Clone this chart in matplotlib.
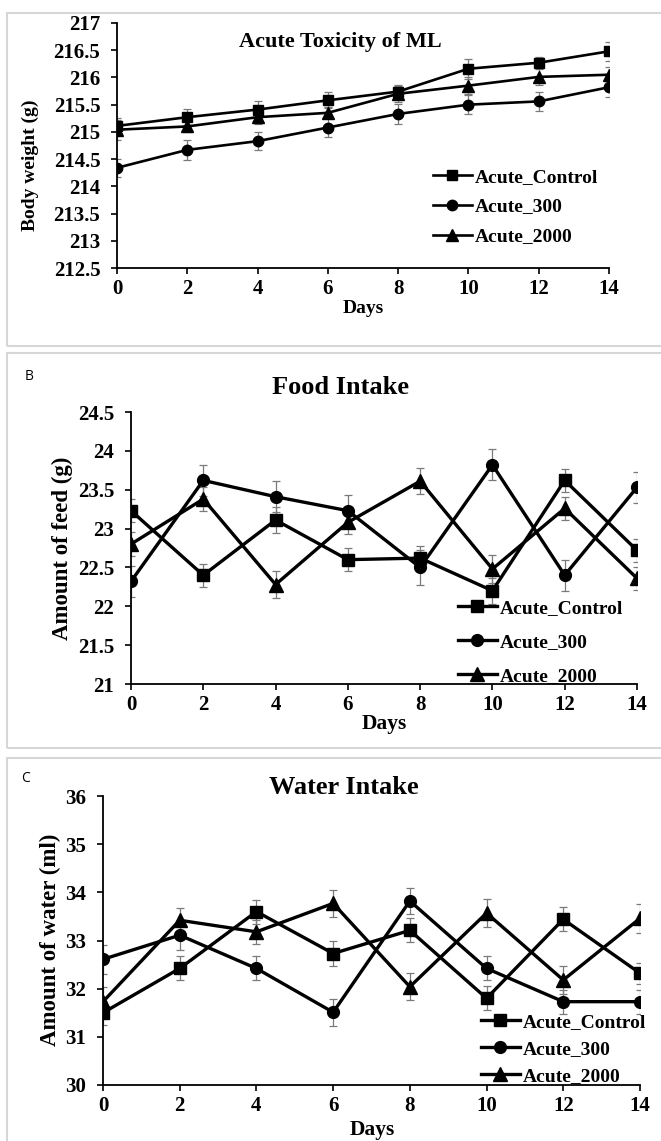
import matplotlib
matplotlib.use('Agg')
import matplotlib.pyplot as plt
from matplotlib.patches import Rectangle

W, H = 661, 1141
SERIF = ['Liberation Serif', 'DejaVu Serif']

days = [0, 2, 4, 6, 8, 10, 12, 14]
series_names = ['Acute_Control', 'Acute_300', 'Acute_2000']
markers = ['s', 'o', '^']

# Panel A: body weight (g)
bw_control = [215.11, 215.27, 215.41, 215.58, 215.74, 216.16, 216.27, 216.48]
bw_300 = [214.34, 214.67, 214.83, 215.08, 215.33, 215.50, 215.56, 215.82]
bw_2000 = [215.04, 215.10, 215.27, 215.35, 215.70, 215.85, 216.01, 216.05]
bw_err_control = [0.15, 0.15, 0.15, 0.15, 0.12, 0.18, 0.10, 0.18]
bw_err_300 = [0.17, 0.18, 0.17, 0.17, 0.18, 0.18, 0.18, 0.18]
bw_err_2000 = [0.18, 0.10, 0.12, 0.10, 0.15, 0.15, 0.15, 0.15]

# Panel B: food intake (g)
food_control = [23.23, 22.40, 23.11, 22.60, 22.62, 22.20, 23.62, 22.72]
food_300 = [22.32, 23.62, 23.41, 23.23, 22.50, 23.82, 22.40, 23.53]
food_2000 = [22.80, 23.38, 22.28, 23.08, 23.61, 22.48, 23.26, 22.36]
food_err_control = [0.15, 0.15, 0.17, 0.15, 0.15, 0.17, 0.15, 0.15]
food_err_300 = [0.20, 0.20, 0.20, 0.20, 0.22, 0.20, 0.20, 0.20]
food_err_2000 = [0.15, 0.15, 0.17, 0.15, 0.17, 0.18, 0.15, 0.15]

# Panel C: water intake (ml)
water_control = [31.50, 32.42, 33.60, 32.73, 33.21, 31.80, 33.44, 32.32]
water_300 = [32.61, 33.11, 32.42, 31.51, 33.82, 32.42, 31.73, 31.73]
water_2000 = [31.73, 33.42, 33.18, 33.77, 32.04, 33.57, 32.18, 33.46]
water_err_control = [0.25, 0.25, 0.25, 0.25, 0.25, 0.25, 0.25, 0.22]
water_err_300 = [0.30, 0.30, 0.25, 0.28, 0.28, 0.25, 0.25, 0.25]
water_err_2000 = [0.30, 0.25, 0.25, 0.28, 0.28, 0.30, 0.30, 0.30]

yticks_a = [212.5, 213, 213.5, 214, 214.5, 215, 215.5, 216, 216.5, 217]
yticks_b = [21, 21.5, 22, 22.5, 23, 23.5, 24, 24.5]
yticks_c = [30, 31, 32, 33, 34, 35, 36]

fig = plt.figure(figsize=(W / 100, H / 100), dpi=100)
fig.patch.set_facecolor('white')


def fx(x):
    return x / W


def fy(y):
    return 1 - y / H


def px_axes(x0, y_top, x1, y_bot):
    return fig.add_axes([fx(x0), fy(y_bot), (x1 - x0) / W, (y_bot - y_top) / H])


# panel frames
for (yt, yb) in [(13, 346), (353, 748), (758, 1160)]:
    fig.add_artist(Rectangle((fx(7), fy(yb)), (700 - 7) / W, (yb - yt) / H,
                             transform=fig.transFigure, fill=False,
                             edgecolor='#d6d6d6', linewidth=1.5))


def draw_panel(ax, ys, errs, ylim, yticks, ticklabels, tick_fs, lw, ms):
    handles = []
    for y, e, m, name in zip(ys, errs, markers, series_names):
        ax.errorbar(days, y, yerr=e, fmt='none', ecolor='#7a7a7a',
                    elinewidth=0.9, capsize=3, capthick=0.9, zorder=1)
        msz = ms + 1.5 if m == '^' else ms
        h, = ax.plot(days, y, color='black', lw=lw, marker=m,
                     markersize=msz, zorder=3, label=name,
                     solid_joinstyle='miter')
        handles.append(h)
    ax.set_xlim(0, 14)
    ax.set_ylim(*ylim)
    ax.set_xticks(days)
    ax.set_xticklabels([str(d) for d in days])
    ax.set_yticks(yticks)
    ax.set_yticklabels(ticklabels)
    for s in ['top', 'right']:
        ax.spines[s].set_visible(False)
    for s in ['left', 'bottom']:
        ax.spines[s].set_linewidth(1.3)
    ax.tick_params(direction='out', length=4, width=1.2)
    ax.tick_params(axis='y', pad=8)
    ax.tick_params(axis='x', pad=4)
    for lab in ax.get_xticklabels() + ax.get_yticklabels():
        lab.set_fontfamily(SERIF)
        lab.set_fontweight('bold')
        lab.set_fontsize(tick_fs)
    ax.patch.set_alpha(0)
    return handles


def fmt(v):
    return ('%g' % v)


def add_legend(ax, handles, x, y, fs, spacing):
    ax.legend(handles, series_names, loc='upper left',
              bbox_to_anchor=(fx(x), fy(y)), bbox_transform=fig.transFigure,
              frameon=False, handlelength=2.0, handletextpad=0.15,
              borderpad=0, borderaxespad=0, labelspacing=spacing,
              prop={'family': SERIF, 'weight': 'bold', 'size': fs})


# ---- Panel A ----
axA = px_axes(117, 23, 609, 268)
hA = draw_panel(axA, [bw_control, bw_300, bw_2000],
                [bw_err_control, bw_err_300, bw_err_2000],
                (212.5, 217), yticks_a, [fmt(v) for v in yticks_a], 15, 1.9, 7.5)
add_legend(axA, hA, 433, 168, 14, 0.63)
fig.text(fx(340), fy(42), 'Acute Toxicity of ML', ha='center', va='center',
         family=SERIF, weight='bold', fontsize=16)
fig.text(fx(30), fy(165), 'Body weight (g)', ha='center', va='center',
         rotation=90, family=SERIF, weight='bold', fontsize=14)
fig.text(fx(363), fy(309), 'Days', ha='center', va='center',
         family=SERIF, weight='bold', fontsize=14)

# ---- Panel B ----
axB = px_axes(131, 412, 637, 684)
hB = draw_panel(axB, [food_control, food_300, food_2000],
                [food_err_control, food_err_300, food_err_2000],
                (21, 24.5), yticks_b, [fmt(v) for v in yticks_b], 15, 2.4, 8.5)
add_legend(axB, hB, 458, 599, 14, 0.85)
fig.text(fx(29), fy(377), 'B', ha='center', va='center',
         family=['Open Sans', 'DejaVu Sans'], fontsize=10)
fig.text(fx(340), fy(387), 'Food Intake', ha='center', va='center',
         family=SERIF, weight='bold', fontsize=19)
fig.text(fx(62), fy(548), 'Amount of feed (g)', ha='center', va='center',
         rotation=90, family=SERIF, weight='bold', fontsize=16.5)
fig.text(fx(384), fy(724), 'Days', ha='center', va='center',
         family=SERIF, weight='bold', fontsize=15.5)

# ---- Panel C ----
axC = px_axes(103, 796, 640, 1085)
hC = draw_panel(axC, [water_control, water_300, water_2000],
                [water_err_control, water_err_300, water_err_2000],
                (30, 36), yticks_c, [fmt(v) for v in yticks_c], 15, 2.4, 8.5)
add_legend(axC, hC, 481, 1013, 14, 0.5)
fig.text(fx(26), fy(778), 'C', ha='center', va='center',
         family=['Open Sans', 'DejaVu Sans'], fontsize=10)
fig.text(fx(344), fy(788), 'Water Intake', ha='center', va='center',
         family=SERIF, weight='bold', fontsize=19)
fig.text(fx(50), fy(940), 'Amount of water (ml)', ha='center', va='center',
         rotation=90, family=SERIF, weight='bold', fontsize=16.5)
fig.text(fx(372), fy(1130), 'Days', ha='center', va='center',
         family=SERIF, weight='bold', fontsize=15.5)

fig.savefig('out.png', dpi=100, facecolor='white')
